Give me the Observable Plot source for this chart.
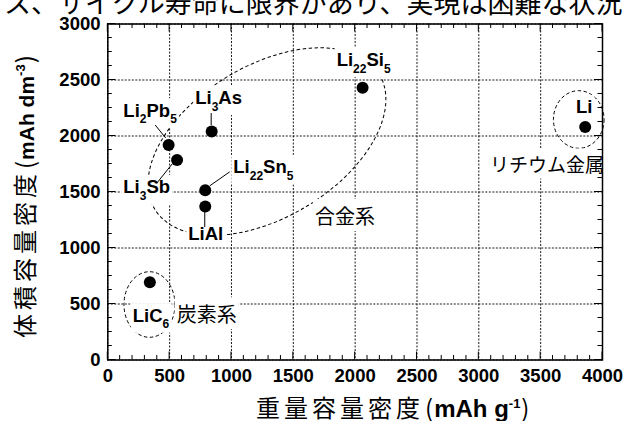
<!DOCTYPE html>
<html><head><meta charset="utf-8">
<script src="https://cdn.jsdelivr.net/npm/d3@7"></script>
<script src="https://cdn.jsdelivr.net/npm/@observablehq/plot@0.6"></script>
<style>body{margin:0;background:#fff;overflow:hidden}</style>
</head><body>
<script>
// ---- data ----
const materials   = ["Li", "Li22Si5", "Li3As", "Li2Pb5", "Li3Sb", "Li22Sn5", "LiAl", "LiC6"];
const gravimetric = [3860, 2060, 840, 492, 560, 788, 788, 340];     // mAh g-1
const volumetric  = [2080, 2430, 2040, 1920, 1786, 1515, 1370, 695]; // mAh dm-3
const xTicks = [0, 500, 1000, 1500, 2000, 2500, 3000, 3500, 4000];
const yTicks = [0, 500, 1000, 1500, 2000, 2500, 3000];
const groupNames = ["合金系", "炭素系", "リチウム金属"];
const groupX = [1679, 561, 3094];
const groupY = [1214, 337, 1674];
const ellipseCX = [1291, 341, 3812];
const ellipseCY = [1946, 491, 2143];
const topText = "ス、サイクル寿命に限界があり、実現は困難な状況";
const xTitle = ["重量容量密度", "(", "mAh g", "-1", ")"];
const yTitle = ["体積容量密度", "(", "mAh dm", "-3", ")"];

// ---- layout (pixels) ----
const LATIN = '"Liberation Sans", Arial, Helvetica, sans-serif';
const CJK = '"Noto Sans CJK JP", "Noto Sans CJK SC", sans-serif';
const ellipseRX = [131, 25.5, 25.3], ellipseRY = [76, 32.8, 28.8], ellipseRot = [-31, 0, 0];
const labelDX = [-8.7, -25.4, -16, -44.8, -53.3, 28.5, -16.5, -16.6];
const labelDY = [-13.2, -21.3, -27, -27.8, 33.8, -16.5, 34, 40];
const leaders = [null, null, [0,-18,0,-6], [-13,-19.5,-2.5,-6.5], [-20,24,-4,4], [25,-18,5,-4], [0,6,0,21], null];

const points = materials.map((m, i) => ({m, g: gravimetric[i], v: volumetric[i]}));
const xMinor = d3.range(0, 4001, 100);
const yMinor = d3.range(0, 3001, 125);

function ellipseMark(index, {x, y}) {
  const g = d3.create("svg:g").attr("fill", "none").attr("stroke", "black")
    .attr("stroke-width", 1).attr("stroke-dasharray", "3.5,2.5");
  ellipseCX.forEach((cx, i) => {
    g.append("ellipse").attr("cx", 0).attr("cy", 0)
      .attr("rx", ellipseRX[i]).attr("ry", ellipseRY[i])
      .attr("transform", `translate(${x(cx)},${y(ellipseCY[i])}) rotate(${ellipseRot[i]})`);
  });
  return g.node();
}

function labelMark(index, {x, y}) {
  const g = d3.create("svg:g").attr("fill", "black").attr("text-anchor", "start");
  materials.forEach((m, i) => {
    const px = x(gravimetric[i]) + labelDX[i], py = y(volumetric[i]) + labelDY[i];
    const lg = g.append("g").attr("class", "lbl");
    const t = lg.append("text").attr("x", px).attr("y", py).attr("text-anchor", "start")
      .attr("font-family", LATIN).attr("font-weight", "bold").attr("font-size", 18.5);
    let shifted = false;
    for (const p of m.match(/[A-Za-z]+|\d+/g)) {
      const ts = t.append("tspan").text(p);
      if (/\d/.test(p)) { ts.attr("font-size", 12).attr("dy", shifted ? 0 : 6.5); shifted = true; }
      else { ts.attr("dy", shifted ? -6.5 : 0); shifted = false; }
    }
  });
  groupNames.forEach((n, i) => {
    g.append("g").attr("class", "lbl").append("text")
      .attr("x", x(groupX[i])).attr("y", y(groupY[i])).attr("text-anchor", "start")
      .attr("font-family", CJK).attr("font-size", i === 2 ? 19 : 20).attr("font-weight", "normal")
      .text(n);
  });
  const lg = g.append("g").attr("stroke", "black").attr("stroke-width", 1);
  materials.forEach((m, i) => {
    const L = leaders[i]; if (!L) return;
    const cx = x(gravimetric[i]), cy = y(volumetric[i]);
    lg.append("line").attr("x1", cx + L[0]).attr("y1", cy + L[1]).attr("x2", cx + L[2]).attr("y2", cy + L[3]);
  });
  return g.node();
}

function tickMark(index, {x, y}, values, dim) {
  const top = dim.marginTop, bottom = dim.height - dim.marginBottom;
  const left = dim.marginLeft, right = dim.width - dim.marginRight;
  const g = d3.create("svg:g").attr("stroke", "black").attr("stroke-width", 1);
  for (const v of xMinor) {
    const len = xTicks.includes(v) ? 8 : 4.5, px = x(v);
    g.append("line").attr("x1", px).attr("x2", px).attr("y1", bottom).attr("y2", bottom - len);
    g.append("line").attr("x1", px).attr("x2", px).attr("y1", top).attr("y2", top + len);
  }
  for (const v of yMinor) {
    const len = yTicks.includes(v) ? 8 : 4.5, py = y(v);
    g.append("line").attr("y1", py).attr("y2", py).attr("x1", left).attr("x2", left + len);
    g.append("line").attr("y1", py).attr("y2", py).attr("x1", right).attr("x2", right - len);
  }
  return g.node();
}

function titleMark(index, scales, values, dim) {
  const g = d3.create("svg:g").attr("fill", "black");
  g.append("text").attr("x", 4).attr("y", 12.5).attr("text-anchor", "start").attr("font-family", CJK)
    .attr("font-size", 27).attr("font-weight", "normal").text(topText);
  function build(t, parts, spacing, latinSize) {
    t.append("tspan").attr("font-family", CJK).attr("font-weight", "normal").attr("letter-spacing", spacing).text(parts[0]);
    t.append("tspan").attr("font-family", CJK).attr("font-weight", "normal").attr("letter-spacing", 0).attr("dx", 1).text(parts[1]);
    t.append("tspan").attr("font-family", LATIN).attr("font-weight", "bold").attr("letter-spacing", 0).attr("font-size", latinSize).attr("dx", 1).text(parts[2]);
    t.append("tspan").attr("font-family", LATIN).attr("font-weight", "bold").attr("letter-spacing", 0).attr("font-size", 13).attr("dy", -9).text(parts[3]);
    t.append("tspan").attr("font-family", CJK).attr("font-weight", "normal").attr("letter-spacing", 0).attr("dy", 9).attr("dx", 1).text(parts[4]);
  }
  const xt = g.append("text").attr("x", 256).attr("y", 416.5).attr("text-anchor", "start").attr("font-size", 24);
  build(xt, xTitle, 4, 24);
  const yt = g.append("text").attr("transform", "translate(33.5,338) rotate(-90)").attr("text-anchor", "start").attr("font-size", 24);
  build(yt, yTitle, 4, 21);
  return g.node();
}

const chart = Plot.plot({
  width: 623, height: 421,
  marginLeft: 107.3, marginRight: 21, marginTop: 23.5, marginBottom: 61.5,
  x: {domain: [0, 4000], label: null},
  y: {domain: [0, 3000], label: null},
  style: {background: "white", fontFamily: LATIN, fontSize: "18.5px", fontWeight: "bold", color: "black"},
  marks: [
    Plot.gridX({ticks: xTicks, stroke: "black", strokeOpacity: 0.9, strokeDasharray: "2,1.5"}),
    Plot.gridY({ticks: yTicks, stroke: "black", strokeOpacity: 0.9, strokeDasharray: "2,1.5"}),
    ellipseMark,
    labelMark,
    Plot.dot(points, {x: "g", y: "v", r: 6, fill: "black", stroke: "none"}),
    Plot.frame({stroke: "black", strokeWidth: 1.5}),
    tickMark,
    Plot.axisX({ticks: xTicks, tickFormat: d => String(d), tickSize: 0, tickPadding: 9, fontSize: 18.5, fontWeight: "bold", label: null}),
    Plot.axisY({ticks: yTicks, tickFormat: d => String(d), tickSize: 0, tickPadding: 7.3, fontSize: 18.5, fontWeight: "bold", label: null}),
    titleMark
  ]
});
document.body.append(chart);

// white backgrounds behind annotation texts
const svgns = "http://www.w3.org/2000/svg";
chart.querySelectorAll("g.lbl").forEach(g => {
  const b = g.querySelector("text").getBBox();
  const r = document.createElementNS(svgns, "rect");
  r.setAttribute("x", b.x - 2); r.setAttribute("y", b.y - 1.5);
  r.setAttribute("width", b.width + 4); r.setAttribute("height", b.height + 3);
  r.setAttribute("fill", "white");
  g.insertBefore(r, g.firstChild);
});
</script>
</body></html>
